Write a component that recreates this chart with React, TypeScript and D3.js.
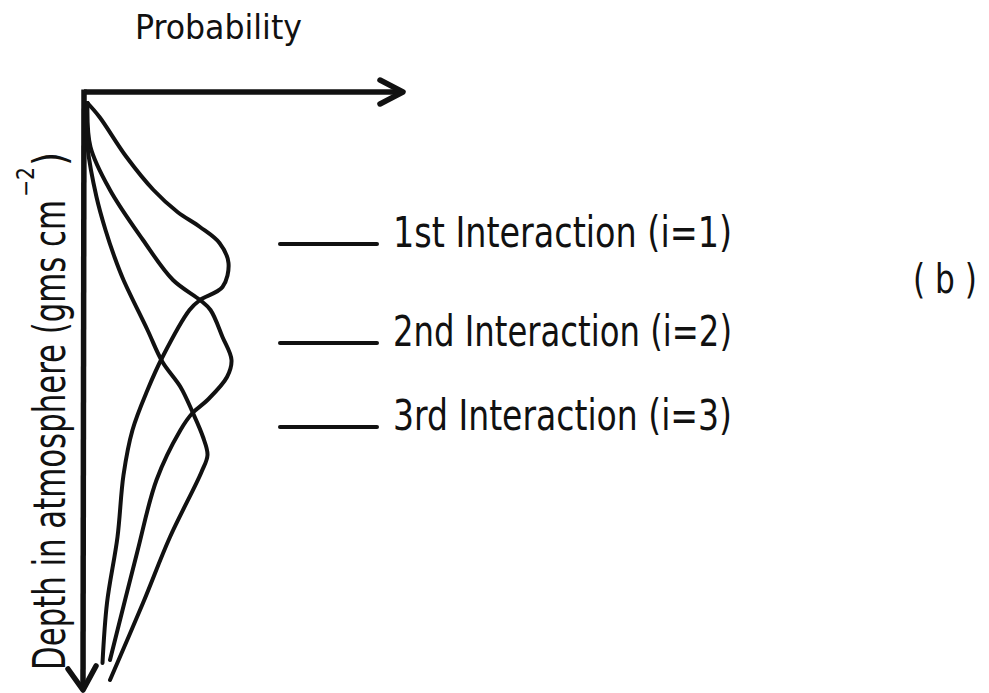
import { useEffect, useRef } from 'react';
import * as d3 from 'd3';

// Interaction depth curves: [probability, depth] pairs
const curva1 = [
  [0.01, 3], [0.09, 17], [0.27, 57], [0.45, 90], [0.61, 112], [0.76, 127],
  [0.89, 143], [0.95, 163], [0.91, 187], [0.76, 200], [0.69, 210], [0.51, 257],
  [0.41, 290], [0.31, 330], [0.25, 375], [0.21, 437], [0.14, 503], [0.11, 563],
];
const curva2 = [
  [0.01, 3], [0.03, 47], [0.16, 90], [0.38, 140], [0.58, 180], [0.76, 200],
  [0.83, 210], [0.91, 237], [0.97, 260], [0.94, 277], [0.81, 300], [0.71, 313],
  [0.63, 330], [0.47, 380], [0.34, 453], [0.16, 560],
];
const curva3 = [
  [0.01, 3], [0.0, 13], [0.01, 47], [0.07, 97], [0.13, 130], [0.19, 157],
  [0.25, 180], [0.41, 230], [0.51, 262], [0.63, 287], [0.71, 312], [0.78, 337],
  [0.81, 355], [0.77, 372], [0.56, 437], [0.38, 503], [0.16, 580],
];
const curvas = [curva1, curva2, curva3];

const etiquetas = ['1st  Interaction (i=1)', '2nd Interaction (i=2)', '3rd  Interaction (i=3)'];
// depth each legend line sits at
const profLeyenda = [144, 243, 327];

const tituloX = 'Probability';
const tituloY = 'Depth in atmosphere (gms cm';
const panel = '( b )';

const W = 989;
const H = 693;
const tinta = '#111';
const fuente = '"DejaVu Sans Condensed", "DejaVu Sans", "Liberation Sans", sans-serif';

export default function App() {
  const ref = useRef<SVGSVGElement>(null);

  useEffect(() => {
    const svg = d3.select(ref.current);
    svg.selectAll('*').remove();
    svg.attr('width', W).attr('height', H);

    const x = d3.scaleLinear().domain([0, 1]).range([86, 236]);
    const y = d3.scaleLinear().domain([0, 600]).range([100, 700]);

    // Ejes con flecha
    const ox = x(0) - 2;
    const oy = y(0) - 8;
    const finX = 403;
    const finY = 690;
    svg.append('line')
      .attr('x1', ox).attr('x2', finX - 2).attr('y1', oy).attr('y2', oy)
      .attr('stroke', tinta).attr('stroke-width', 5.5);
    svg.append('polyline')
      .attr('points', `${finX - 23},${oy - 12} ${finX},${oy} ${finX - 23},${oy + 12}`)
      .attr('fill', 'none').attr('stroke', tinta).attr('stroke-width', 5.5)
      .attr('stroke-linecap', 'round').attr('stroke-linejoin', 'round');
    svg.append('line')
      .attr('x1', ox).attr('x2', ox - 1).attr('y1', oy - 2.5).attr('y2', finY - 3)
      .attr('stroke', tinta).attr('stroke-width', 5.5);
    svg.append('polyline')
      .attr('points', `${ox - 16},${finY - 21} ${ox - 1},${finY} ${ox + 12},${finY - 24}`)
      .attr('fill', 'none').attr('stroke', tinta).attr('stroke-width', 5.5)
      .attr('stroke-linecap', 'round').attr('stroke-linejoin', 'round');

    // Curvas
    const linea = d3.line<number[]>()
      .x(d => x(d[0]))
      .y(d => y(d[1]))
      .curve(d3.curveCatmullRom.alpha(0.5));
    curvas.forEach(c => {
      svg.append('path')
        .attr('d', linea(c))
        .attr('fill', 'none')
        .attr('stroke', tinta)
        .attr('stroke-width', 4)
        .attr('stroke-linecap', 'round');
    });

    // Leyenda
    etiquetas.forEach((t, i) => {
      const yy = y(profLeyenda[i]);
      svg.append('line')
        .attr('x1', 280).attr('x2', 377).attr('y1', yy).attr('y2', yy)
        .attr('stroke', tinta).attr('stroke-width', 4).attr('stroke-linecap', 'round');
      svg.append('text')
        .attr('x', 393).attr('y', yy + 3)
        .attr('font-family', fuente).attr('font-size', 42)
        .attr('textLength', 339).attr('lengthAdjust', 'spacingAndGlyphs')
        .attr('fill', tinta)
        .text(t);
    });

    // Titulos
    svg.append('text')
      .attr('x', 135).attr('y', 39)
      .attr('font-family', fuente).attr('font-size', 33)
      .attr('textLength', 167).attr('lengthAdjust', 'spacingAndGlyphs')
      .attr('fill', tinta)
      .text(tituloX);

    const gy = svg.append('g').attr('transform', 'translate(65,670) rotate(-90)');
    gy.append('text')
      .attr('x', 0).attr('y', 0)
      .attr('font-family', fuente).attr('font-size', 44)
      .attr('textLength', 470).attr('lengthAdjust', 'spacingAndGlyphs')
      .attr('fill', tinta)
      .text(tituloY);
    gy.append('text')
      .attr('x', 473).attr('y', -31)
      .attr('font-family', fuente).attr('font-size', 24)
      .attr('textLength', 30).attr('lengthAdjust', 'spacingAndGlyphs')
      .attr('fill', tinta)
      .text('\u22122');
    gy.append('text')
      .attr('x', 504).attr('y', 0)
      .attr('font-family', fuente).attr('font-size', 44)
      .attr('textLength', 14).attr('lengthAdjust', 'spacingAndGlyphs')
      .attr('fill', tinta)
      .text(')');

    svg.append('text')
      .attr('x', 913).attr('y', 293)
      .attr('font-family', fuente).attr('font-size', 40)
      .attr('textLength', 64).attr('lengthAdjust', 'spacingAndGlyphs')
      .attr('fill', tinta)
      .text(panel);
  }, []);

  return (
    <div style={{ position: 'absolute', left: 0, top: 0, background: '#fff' }}>
      <svg ref={ref} style={{ display: 'block' }} />
    </div>
  );
}
